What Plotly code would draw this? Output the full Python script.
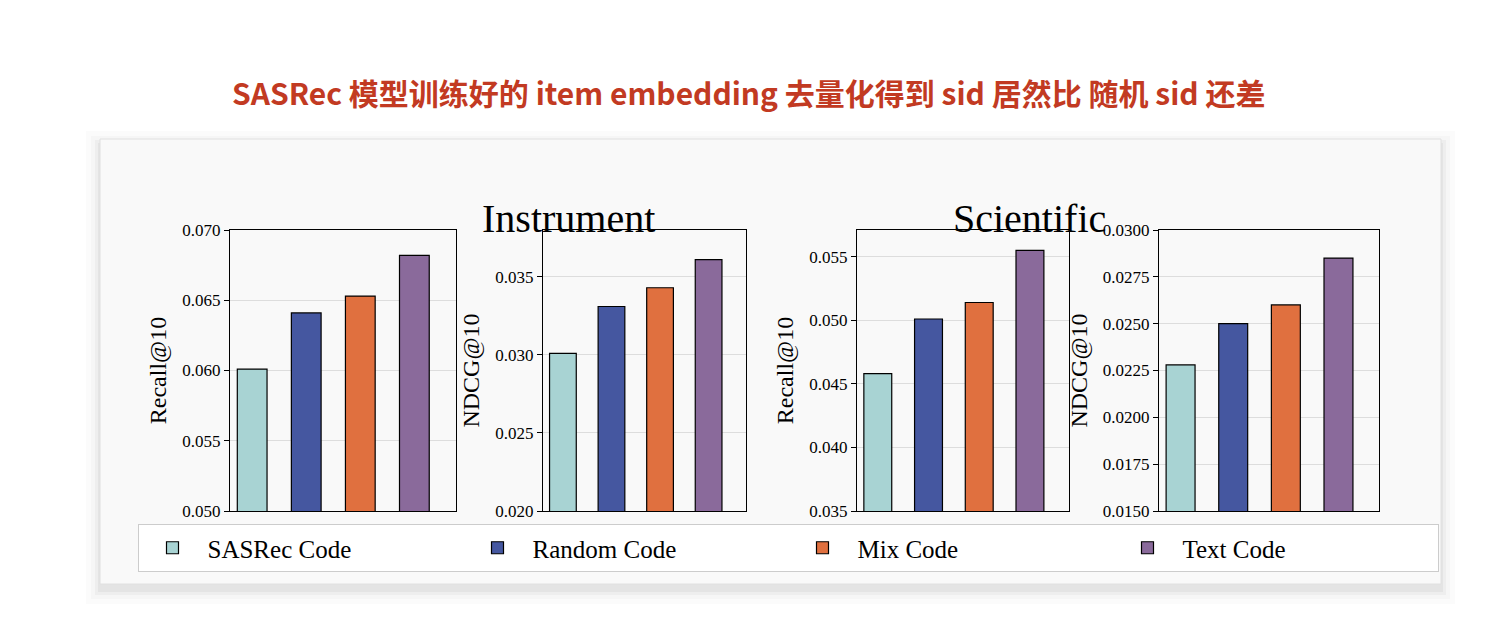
import plotly.graph_objects as go

codes = ["SASRec Code", "Random Code", "Mix Code", "Text Code"]
colors = ["#a8d3d3", "#4557a0", "#e0703f", "#8a6a9b"]

inst_recall = [0.0601, 0.0641, 0.0653, 0.0682]
inst_ndcg = [0.0301, 0.0331, 0.0343, 0.0361]
sci_recall = [0.0458, 0.0501, 0.0514, 0.0555]
sci_ndcg = [0.0228, 0.0250, 0.0260, 0.0285]

panels = [
    (inst_recall, "Recall@10", [0.050, 0.070], 0.005, ".3f"),
    (inst_ndcg, "NDCG@10", [0.020, 0.038], 0.005, ".3f"),
    (sci_recall, "Recall@10", [0.035, 0.0571], 0.005, ".3f"),
    (sci_ndcg, "NDCG@10", [0.015, 0.030], 0.0025, ".4f"),
]
W, H = 1508, 642
xdoms = [(222, 448), (535, 738), (849, 1061), (1151, 1371)]
ydom = [1 - 503 / H, 1 - 222 / H]
serif = "Liberation Serif"

fig = go.Figure()
layout = {}
for k, (vals, ttl, rng, dt, fmt) in enumerate(panels):
    sfx = "" if k == 0 else str(k + 1)
    for i, (name, v) in enumerate(zip(codes, vals)):
        fig.add_trace(go.Bar(
            x=[i], y=[v], name=name, legendgroup=name, showlegend=(k == 0),
            marker=dict(color=colors[i], line=dict(color="black", width=1.2)),
            width=0.55, xaxis="x" + sfx, yaxis="y" + sfx))
    layout["xaxis" + sfx] = dict(
        domain=[xdoms[k][0] / W, xdoms[k][1] / W], range=[-0.41, 3.77],
        showticklabels=False, ticks="", showgrid=False, zeroline=False,
        showline=True, linecolor="black", linewidth=1, mirror=True,
        anchor="y" + sfx, fixedrange=True)
    layout["yaxis" + sfx] = dict(
        domain=ydom, range=rng, dtick=dt, tick0=0, tickformat=fmt,
        ticks="outside", ticklen=5, tickcolor="black",
        showgrid=True, gridcolor="#dddddd", zeroline=False,
        showline=True, linecolor="black", linewidth=1, mirror=True,
        title=dict(text=ttl, font=dict(size=24, family=serif, color="black"), standoff=8),
        tickfont=dict(size=17, family=serif, color="black"),
        anchor="x" + sfx, automargin=False)

shapes = []
for off, op in [(14, 0.015), (9, 0.02), (5, 0.03), (2, 0.04)]:
    shapes.append(dict(type="rect", xref="paper", yref="paper", layer="below",
                       x0=(92 - off) / W, x1=(1433 + off) / W,
                       y0=1 - (576 + off + 6) / H, y1=1 - (131 - off + 6) / H,
                       fillcolor=f"rgba(0,0,0,{op})", line=dict(width=0)))
shapes.append(dict(type="rect", xref="paper", yref="paper", layer="below",
                   x0=92 / W, x1=1433 / W, y0=1 - 576 / H, y1=1 - 131 / H,
                   fillcolor="#f9f9f9", line=dict(color="#e0e0e0", width=1)))

annotations = [
    dict(text="<b>SASRec 模型训练好的 item embedding 去量化得到 sid 居然比 随机 sid 还差</b>",
         x=740 / W, y=1 - 60 / H, xref="paper", yref="paper", showarrow=False,
         font=dict(size=30, color="#c23a22", family="Noto Sans CJK SC")),
    dict(text="Instrument", x=472 / W, y=1 - 186 / H, xref="paper", yref="paper",
         showarrow=False, font=dict(size=40, color="black", family=serif)),
    dict(text="Scientific", x=1100 / W, y=1 - 186 / H, xref="paper", yref="paper",
         showarrow=False, font=dict(size=40, color="black", family=serif)),
]

fig.update_layout(
    width=W, height=H, margin=dict(l=0, r=0, t=0, b=0, autoexpand=False),
    paper_bgcolor="white", plot_bgcolor="white", barmode="overlay",
    shapes=shapes, annotations=annotations,
    legend=dict(orientation="h", x=780 / W, xanchor="center", y=1 - 540 / H,
                yanchor="middle", font=dict(size=25, family=serif, color="black"),
                bgcolor="white", bordercolor="#cccccc", borderwidth=1,
                entrywidth=250, itemwidth=60),
    **layout)
fig.write_html("out.html")
